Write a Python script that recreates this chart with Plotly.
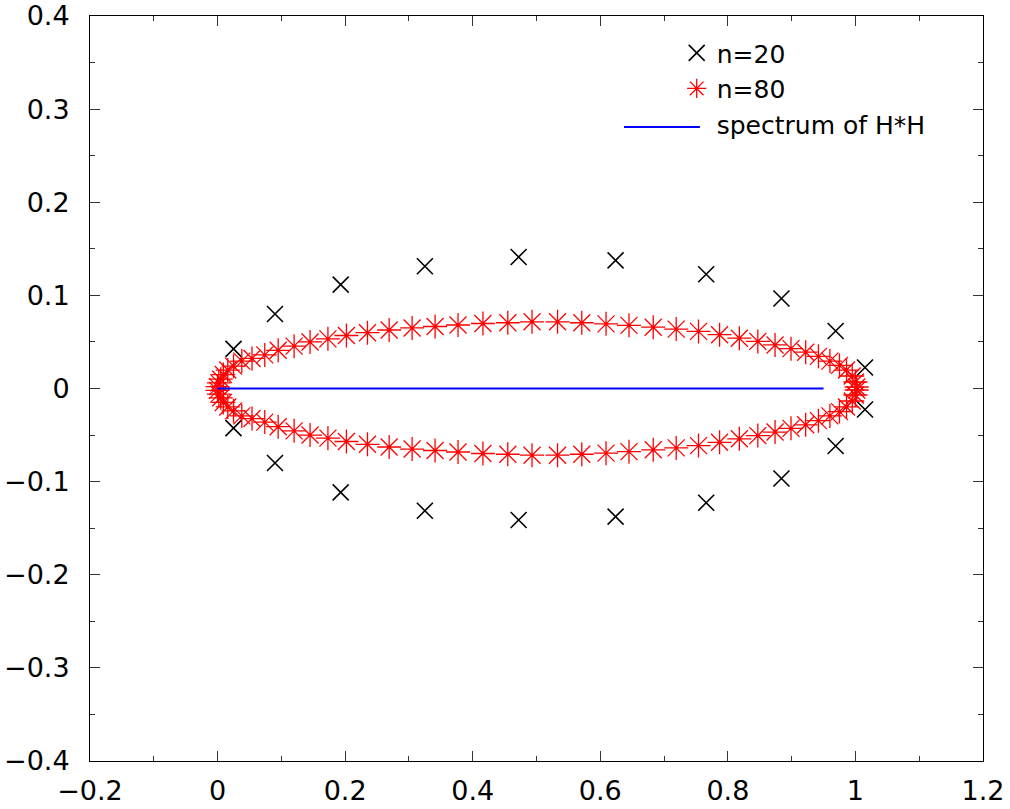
import plotly.graph_objects as go

# n=20 eigenvalues (upper half; lower half is the complex conjugate)
n20_re = [0.025, 0.090, 0.193, 0.325, 0.472, 0.624, 0.766, 0.884, 0.969, 1.015]
n20_im = [0.0425, 0.080, 0.1115, 0.1313, 0.1412, 0.1376, 0.1227, 0.0966, 0.0617, 0.0225]

# n=80 eigenvalues (upper half)
n80_re = [0.000, 0.002, 0.005, 0.009, 0.016, 0.025, 0.038, 0.054, 0.074, 0.095,
          0.120, 0.145, 0.173, 0.202, 0.235, 0.269, 0.305, 0.341, 0.377, 0.416,
          0.455, 0.493, 0.533, 0.571, 0.609, 0.645, 0.683, 0.719, 0.754, 0.787,
          0.818, 0.847, 0.874, 0.899, 0.922, 0.942, 0.960, 0.975, 0.986, 0.995,
          1.000, 1.002]
n80_im = [0.002, 0.006, 0.010, 0.015, 0.0198, 0.024, 0.0294, 0.0323, 0.0361, 0.041,
          0.0455, 0.050, 0.0533, 0.0569, 0.0599, 0.0628, 0.0650, 0.0666, 0.0682, 0.0698,
          0.0706, 0.0716, 0.0716, 0.0706, 0.0694, 0.0678, 0.0658, 0.0638, 0.0613, 0.0578,
          0.054, 0.0506, 0.0468, 0.0428, 0.039, 0.0345, 0.0294, 0.0248, 0.0198, 0.0134,
          0.0070, 0.0016]

# spectrum of H*H (real interval)
spec_re = [0.0, 0.95]
spec_im = [0.0, 0.0]

x_ticks = [-0.2, 0, 0.2, 0.4, 0.6, 0.8, 1, 1.2]
x_ticklabels = ["\u22120.2", "0", "0.2", "0.4", "0.6", "0.8", "1", "1.2"]
y_ticks = [-0.4, -0.3, -0.2, -0.1, 0, 0.1, 0.2, 0.3, 0.4]
y_ticklabels = ["\u22120.4", "\u22120.3", "\u22120.2", "\u22120.1", "0", "0.1", "0.2", "0.3", "0.4"]

x20 = n20_re + n20_re
y20 = n20_im + [-v for v in n20_im]
x80 = n80_re + n80_re
y80 = n80_im + [-v for v in n80_im]

FONT = "DejaVu Sans, Liberation Sans, Arial, sans-serif"
BLUE = "#0000ff"

fig = go.Figure()
fig.add_trace(go.Scatter(
    x=x20, y=y20, mode="markers", name="n=20",
    marker=dict(symbol="x-thin-open", size=16, color="black",
                line=dict(color="black", width=1.6)),
))
fig.add_trace(go.Scatter(
    x=x80, y=y80, mode="markers", name="n=80",
    marker=dict(symbol="asterisk-open", size=20, color="#ff0000",
                line=dict(color="#ff0000", width=1.3)),
))
fig.add_trace(go.Scatter(
    x=spec_re, y=spec_im, mode="lines", name="spectrum of H*H",
    line=dict(color=BLUE, width=2), showlegend=False,
))
# legend entry for the spectrum (its line sample is drawn as a longer shape below)
fig.add_trace(go.Scatter(
    x=[None], y=[None], mode="lines", name="spectrum of H*H",
    line=dict(color="rgba(0,0,0,0)", width=2),
))

axis_common = dict(
    showgrid=False, zeroline=False, showline=True, linecolor="black", linewidth=1,
    mirror="allticks", ticks="inside", ticklen=10, tickwidth=1, tickcolor="#333333",
    tickfont=dict(family=FONT, size=27, color="black"), automargin=False,
    ticklabeloverflow="allow",
)

fig.update_layout(
    width=1010, height=809,
    margin=dict(l=90, r=27, t=16, b=48),
    paper_bgcolor="white", plot_bgcolor="white",
    font=dict(family=FONT, size=25, color="black"),
    xaxis=dict(range=[-0.2, 1.2], tickmode="array", tickvals=x_ticks, ticktext=x_ticklabels,
               minor=dict(dtick=0.1, tick0=0, ticks="inside", ticklen=5, tickcolor="#333333"),
               ticklabelstandoff=6, **axis_common),
    yaxis=dict(range=[-0.4, 0.4], tickmode="array", tickvals=y_ticks, ticktext=y_ticklabels,
               minor=dict(dtick=0.05, tick0=0, ticks="inside", ticklen=5, tickcolor="#333333"),
               ticklabelstandoff=14, **axis_common),
    legend=dict(x=0.657, y=0.981, xanchor="left", yanchor="top",
                bgcolor="rgba(0,0,0,0)", borderwidth=0, tracegroupgap=0,
                font=dict(family=FONT, size=25)),
    showlegend=True,
)

# legend line sample for "spectrum of H*H"
fig.add_shape(type="line", xref="paper", yref="paper",
              x0=0.598, x1=0.683, y0=0.851, y1=0.851,
              line=dict(color=BLUE, width=2))

fig.write_html("out.html")
